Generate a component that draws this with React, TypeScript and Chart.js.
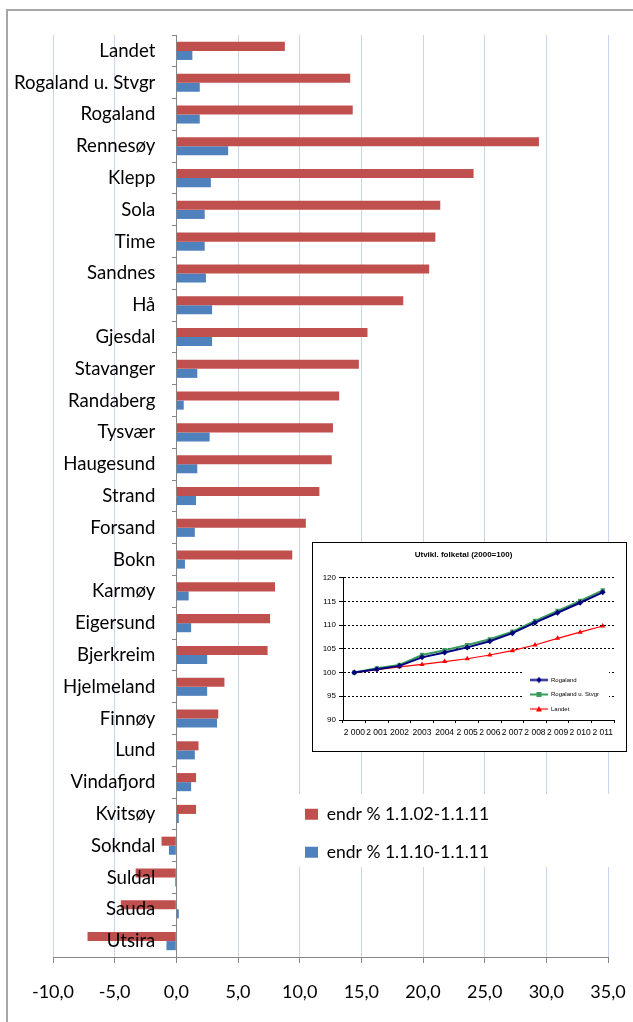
import React, { useEffect, useRef } from 'react';
import { Chart, registerables } from 'chart.js';

Chart.register(...registerables);

// ---------- main chart data ----------
const categories = [
  'Landet', 'Rogaland u. Stvgr', 'Rogaland', 'Rennesøy', 'Klepp', 'Sola', 'Time', 'Sandnes', 'Hå',
  'Gjesdal', 'Stavanger', 'Randaberg', 'Tysvær', 'Haugesund', 'Strand', 'Forsand', 'Bokn', 'Karmøy',
  'Eigersund', 'Bjerkreim', 'Hjelmeland', 'Finnøy', 'Lund', 'Vindafjord', 'Kvitsøy', 'Sokndal',
  'Suldal', 'Sauda', 'Utsira',
];
const endr0211 = [
  8.8, 14.1, 14.3, 29.4, 24.1, 21.4, 21.0, 20.5, 18.4, 15.5, 14.8, 13.2, 12.7, 12.6, 11.6, 10.5,
  9.4, 8.0, 7.6, 7.4, 3.9, 3.4, 1.8, 1.6, 1.6, -1.2, -3.3, -4.5, -7.2,
];
const endr1011 = [
  1.3, 1.9, 1.9, 4.2, 2.8, 2.3, 2.3, 2.4, 2.9, 2.9, 1.7, 0.6, 2.7, 1.7, 1.6, 1.5,
  0.7, 1.0, 1.2, 2.5, 2.5, 3.3, 1.5, 1.2, 0.2, -0.6, -0.1, 0.2, -0.8,
];
const seriesNames = ['endr % 1.1.02-1.1.11', 'endr % 1.1.10-1.1.11'];
const xTickLabels = ['-10,0', '-5,0', '0,0', '5,0', '10,0', '15,0', '20,0', '25,0', '30,0', '35,0'];

// ---------- inset chart data ----------
const insetTitle = 'Utvikl. folketal (2000=100)';
const insetYears = ['2 000', '2 001', '2002', '2003', '2004', '2 005', '2 006', '2 007', '2 008', '2 009', '2 010', '2 011'];
const insetNames = ['Rogaland', 'Rogaland u. Stvgr', 'Landet'];
const insetRogaland = [100, 100.7, 101.4, 103.2, 104.2, 105.3, 106.6, 108.3, 110.5, 112.6, 114.7, 116.9];
const insetRogUStvgr = [100, 100.9, 101.6, 103.7, 104.7, 105.8, 107.0, 108.6, 110.9, 113.0, 115.1, 117.3];
const insetLandet = [100, 100.6, 101.2, 101.7, 102.3, 102.9, 103.7, 104.6, 105.8, 107.2, 108.5, 109.8];

const MAIN_FONT = 'Lato, "Open Sans", sans-serif';
const INSET_FONT = '"Liberation Sans", Arial, sans-serif';

function legendPlacer(id: string, cfg: { left: number; top: number; bg: [number, number, number, number] }) {
  return {
    id,
    afterInit(chart: any) {
      const lg = chart.legend;
      if (!lg) return;
      lg._layers = () => [
        {
          z: 5,
          draw: (ca: any) => {
            const ctx = chart.ctx;
            ctx.save();
            ctx.fillStyle = '#ffffff';
            ctx.fillRect(cfg.bg[0], cfg.bg[1], cfg.bg[2], cfg.bg[3]);
            ctx.restore();
            lg.left = cfg.left;
            lg.top = cfg.top;
            lg.width = 400;
            lg.height = 300;
            lg.right = cfg.left + 400;
            lg.bottom = cfg.top + 300;
            lg.draw(ca);
          },
        },
      ];
    },
  };
}

const placeAxisLabels = {
  id: 'placeAxisLabels',
  beforeDraw(chart: any) {
    const ys = chart.scales.y;
    const xs = chart.scales.x;
    const px = xs.getPixelForValue(0);
    for (const it of ys.getLabelItems(chart.chartArea)) {
      it.options.translation = [px - 21, it.options.translation[1]];
      it.options.textAlign = 'right';
    }
    for (const it of xs.getLabelItems(chart.chartArea)) {
      it.options.translation = [it.options.translation[0], 992];
      it.options.textBaseline = 'middle';
      it.textOffset = 0;
    }
  },
};

function makeIcon(color: string, style: string, lw: number) {
  const c = document.createElement('canvas');
  c.width = 18;
  c.height = 7;
  const ctx = c.getContext('2d')!;
  ctx.strokeStyle = color;
  ctx.fillStyle = color;
  ctx.lineWidth = lw;
  ctx.beginPath();
  ctx.moveTo(0, 3.5);
  ctx.lineTo(18, 3.5);
  ctx.stroke();
  ctx.beginPath();
  if (style === 'diamond') {
    ctx.moveTo(9, 0.5);
    ctx.lineTo(12, 3.5);
    ctx.lineTo(9, 6.5);
    ctx.lineTo(6, 3.5);
  } else if (style === 'square') {
    ctx.rect(6.5, 1, 5, 5);
  } else {
    ctx.moveTo(9, 0.5);
    ctx.lineTo(12, 6);
    ctx.lineTo(6, 6);
  }
  ctx.closePath();
  ctx.fill();
  return c;
}

export default function App() {
  const mainRef = useRef<HTMLCanvasElement>(null);
  const insetRef = useRef<HTMLCanvasElement>(null);

  useEffect(() => {
    const mainChart = new Chart(mainRef.current!, {
      type: 'bar',
      data: {
        labels: categories,
        datasets: [
          {
            label: seriesNames[0],
            data: endr0211,
            backgroundColor: '#c0504d',
            categoryPercentage: 0.57,
            barPercentage: 1,
          },
          {
            label: seriesNames[1],
            data: endr1011,
            backgroundColor: '#4f81bd',
            categoryPercentage: 0.57,
            barPercentage: 1,
          },
        ],
      },
      options: {
        indexAxis: 'y',
        responsive: false,
        animation: false,
        layout: { padding: { left: 53, right: 25, top: 35, bottom: 0 } },
        scales: {
          x: {
            type: 'linear',
            position: 'bottom',
            min: -10,
            max: 35,
            ticks: {
              stepSize: 5,
              autoSkip: false,
              maxRotation: 0,
              padding: 2,
              color: '#000',
              font: { family: MAIN_FONT, size: 18 },
              callback: (_v: any, i: number) => xTickLabels[i],
            },
            grid: { color: '#c7d6eb', lineWidth: 1, tickColor: '#868686', tickLength: 6 },
            border: { color: '#868686' },
            afterFit: (s: any) => {
              s.height = 65;
            },
          },
          y: {
            type: 'category',
            position: { x: 0 } as any,
            ticks: { color: '#000', font: { family: MAIN_FONT, size: 18.6 }, autoSkip: false, z: 1 },
            grid: { drawOnChartArea: false, offset: true, tickLength: 4, color: '#868686' },
            border: { color: '#868686' },
          },
        },
        plugins: {
          legend: {
            position: 'chartArea' as any,
            fullSize: false,
            align: 'start',
            labels: {
              boxWidth: 13,
              boxHeight: 11,
              padding: 20.5,
              color: '#000',
              font: { family: MAIN_FONT, size: 17.5 },
            },
          },
          tooltip: { enabled: false },
        },
      } as any,
      plugins: [legendPlacer('mainLegend', { left: 284.5, top: 785, bg: [297, 794, 318, 73] }), placeAxisLabels],
    });

    const icons = [makeIcon('#000080', 'diamond', 2), makeIcon('#3a9a5c', 'square', 2), makeIcon('#ff0000', 'triangle', 1.2)];

    const insetChart = new Chart(insetRef.current!, {
      type: 'line',
      data: {
        labels: insetYears,
        datasets: [
          {
            label: insetNames[0],
            data: insetRogaland,
            borderColor: '#000080',
            backgroundColor: '#000080',
            borderWidth: 2,
            pointStyle: 'rectRot',
            pointRadius: 3,
            pointBorderWidth: 0,
            tension: 0,
          },
          {
            label: insetNames[1],
            data: insetRogUStvgr,
            borderColor: '#3a9a5c',
            backgroundColor: '#3a9a5c',
            borderWidth: 2,
            pointStyle: 'rect',
            pointRadius: 3,
            pointBorderWidth: 0,
            tension: 0,
          },
          {
            label: insetNames[2],
            data: insetLandet,
            borderColor: '#ff0000',
            backgroundColor: '#ff0000',
            borderWidth: 1.2,
            pointStyle: 'triangle',
            pointRadius: 3,
            pointBorderWidth: 0,
            tension: 0,
          },
        ],
      },
      options: {
        responsive: false,
        animation: false,
        layout: { padding: { left: 0, right: 12, top: 0, bottom: 0 } },
        scales: {
          x: {
            offset: true,
            ticks: { color: '#000', font: { family: INSET_FONT, size: 8.5 }, padding: 5, maxRotation: 0, autoSkip: false },
            grid: { drawOnChartArea: false, offset: true, tickLength: 3, color: '#000' },
            border: { color: '#000' },
            afterFit: (s: any) => {
              s.height = 31;
            },
          },
          y: {
            min: 90,
            max: 120,
            ticks: { stepSize: 5, color: '#000', font: { family: INSET_FONT, size: 8 }, padding: 3 },
            grid: { color: '#000', lineWidth: 1, tickLength: 4, tickBorderDash: [], tickColor: '#000' },
            border: { color: '#000', dash: [2, 2] },
            afterFit: (s: any) => {
              s.width = 30;
            },
          },
        },
        plugins: {
          title: {
            display: true,
            text: insetTitle,
            color: '#000',
            font: { family: INSET_FONT, size: 8, weight: 'bold' },
            padding: { top: 7, bottom: 18 },
          },
          legend: {
            position: 'chartArea' as any,
            fullSize: false,
            align: 'start',
            labels: {
              usePointStyle: true,
              pointStyleWidth: 18,
              padding: 8.5,
              color: '#000',
              font: { family: INSET_FONT, size: 6 },
              generateLabels: (chart: any) => {
                const items = (Chart.defaults.plugins.legend.labels as any).generateLabels(chart);
                items.forEach((it: any, i: number) => {
                  it.pointStyle = icons[i];
                });
                return items;
              },
            },
          },
          tooltip: { enabled: false },
        },
      } as any,
      plugins: [legendPlacer('insetLegend', { left: 208.5, top: 125.5, bg: [209, 127, 87, 48] })],
    });

    return () => {
      mainChart.destroy();
      insetChart.destroy();
    };
  }, []);

  return (
    <div
      style={{
        position: 'absolute',
        left: 0,
        top: 0,
        width: 633,
        height: 1022,
        overflow: 'hidden',
        background: '#fff',
      }}
    >
      <div
        style={{
          position: 'absolute',
          left: 6,
          top: 9,
          width: 700,
          height: 1100,
          border: '2px solid #a6a6a6',
          boxSizing: 'border-box',
        }}
      />
      <canvas ref={mainRef} width={633} height={1022} style={{ position: 'absolute', left: 0, top: 0 }} />
      <div
        style={{
          position: 'absolute',
          left: 312,
          top: 542,
          width: 313,
          height: 208,
          border: '1px solid #000',
          background: '#fff',
        }}
      >
        <canvas ref={insetRef} width={313} height={208} style={{ display: 'block' }} />
      </div>
    </div>
  );
}
